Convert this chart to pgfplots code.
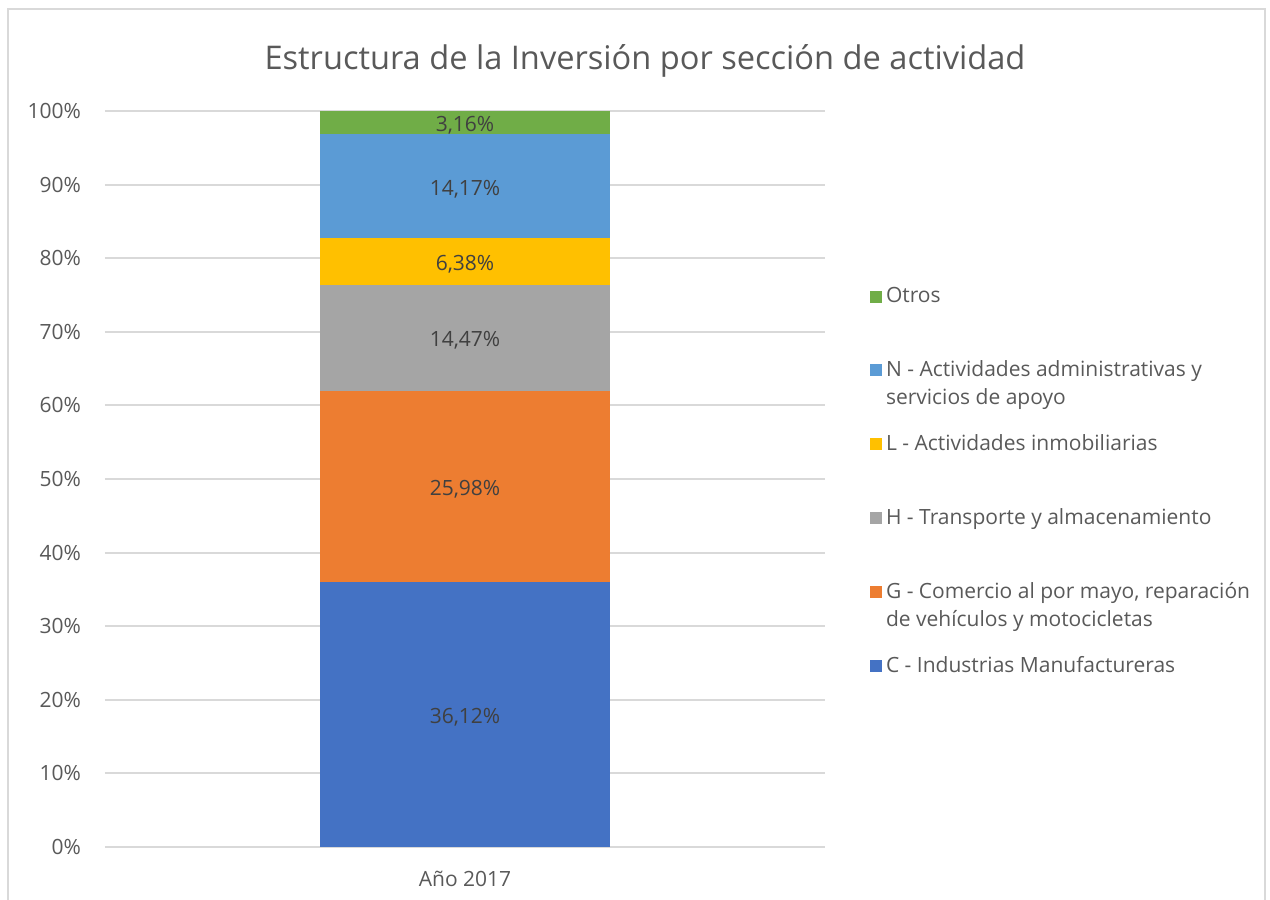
\documentclass[border=0pt]{standalone}
\usepackage{pgfplots}
\pgfplotsset{compat=1.18}
\usepackage{fontspec}
\setmainfont{Open Sans}

\definecolor{txtgray}{RGB}{89,89,89}
\definecolor{lblgray}{RGB}{64,64,64}
\definecolor{gridgray}{RGB}{217,217,217}
\definecolor{cC}{RGB}{68,114,196}
\definecolor{cG}{RGB}{237,125,49}
\definecolor{cH}{RGB}{165,165,165}
\definecolor{cL}{RGB}{255,192,0}
\definecolor{cN}{RGB}{91,155,213}
\definecolor{cO}{RGB}{112,173,71}

\begin{document}
\begin{tikzpicture}
\useasboundingbox (0,0) rectangle (635pt,450pt);
\draw[gridgray, line width=0.8pt] (4pt,-2pt) rectangle (632.5pt,445.5pt);
\node[txtgray, font=\fontsize{16.3}{19}\selectfont] at (322.5pt,419.5pt) {Estructura de la Inversión por sección de actividad};

\begin{axis}[
    at={(52.5pt,26.5pt)}, anchor=south west,
    scale only axis, width=360pt, height=368pt,
    ybar stacked, bar width=144.5pt,
    xmin=-1.25, xmax=1.25, ymin=0, ymax=100,
    y filter/.expression={y/1.0028},
    xtick={0}, xticklabels={Año 2017},
    ytick={0,10,...,100},
    yticklabel={\pgfmathprintnumber{\tick}\%},
    /pgf/number format/assume math mode=true,
    ymajorgrids, grid style={gridgray, line width=1pt},
    axis line style={draw=none},
    major tick length=0pt,
    tick label style={txtgray, font=\fontsize{10.5}{12}\selectfont},
    yticklabel style={xshift=-8.5pt},
    xticklabel style={yshift=-8.5pt},
    point meta=explicit symbolic,
    nodes near coords,
    every node near coord/.append style={lblgray, yshift=-1.3pt, font=\fontsize{10.5}{12}\selectfont},
    reverse legend,
    legend cell align=left,
    legend style={at={(1.062,0.766)}, anchor=north west, draw=none, fill=none,
        inner sep=0pt, row sep=9.5pt, text=txtgray,
        font=\fontsize{10.5}{14}\selectfont,
        cells={align=left}},
    legend image code/.code={\fill[#1] (-1pt,4pt) rectangle (5pt,10pt);},
]
\addplot[fill=cC, draw=none] coordinates {(0,36.12) [36,12\%]};
\addplot[fill=cG, draw=none] coordinates {(0,25.98) [25,98\%]};
\addplot[fill=cH, draw=none] coordinates {(0,14.47) [14,47\%]};
\addplot[fill=cL, draw=none] coordinates {(0,6.38) [6,38\%]};
\addplot[fill=cN, draw=none] coordinates {(0,14.17) [14,17\%]};
\addplot[fill=cO, draw=none] coordinates {(0,3.16) [3,16\%]};
\legend{{C - Industrias Manufactureras\\\mbox{}},
    {G - Comercio al por mayo, reparación\\de vehículos y motocicletas},
    {H - Transporte y almacenamiento\\\mbox{}},
    {L - Actividades inmobiliarias\\\mbox{}},
    {N - Actividades administrativas y\\servicios de apoyo},
    {Otros\\\mbox{}}}
\end{axis}
\end{tikzpicture}
\end{document}
